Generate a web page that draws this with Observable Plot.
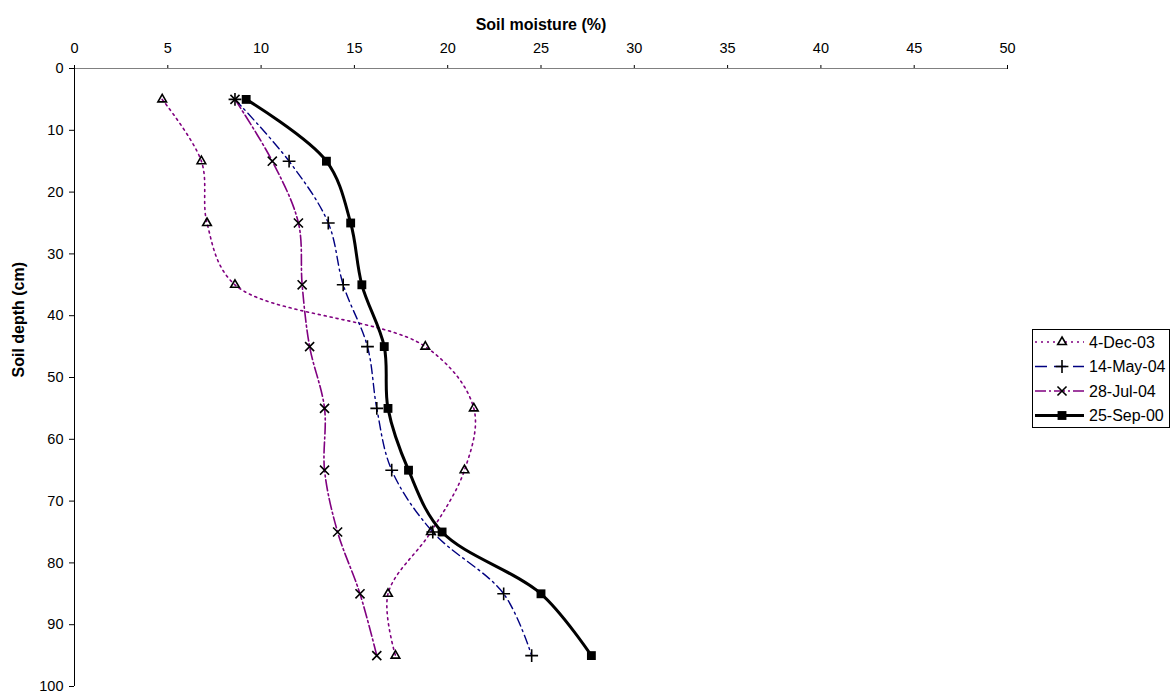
<!DOCTYPE html>
<html>
<head>
<meta charset="utf-8">
<script src="https://cdn.jsdelivr.net/npm/d3@7"></script>
<script src="https://cdn.jsdelivr.net/npm/@observablehq/plot@0.6"></script>
<style>
  body { margin: 0; background: white; }
  #wrap { position: relative; width: 1176px; height: 696px; }
  #legend { position: absolute; left: 1032px; top: 329px; width: 138px; height: 99px; border: 1px solid #000; background: #fff; box-sizing: border-box; }
</style>
</head>
<body>
<div id="wrap"><div id="legend"></div></div>
<script>
const depths = [5, 15, 25, 35, 45, 55, 65, 75, 85, 95];
const dec03 = [4.7, 6.8, 7.1, 8.6, 18.8, 21.4, 20.9, 19.1, 16.8, 17.2];
const may04 = [8.6, 11.5, 13.6, 14.4, 15.7, 16.2, 17.0, 19.2, 23.0, 24.5];
const jul04 = [8.6, 10.6, 12.0, 12.2, 12.6, 13.4, 13.4, 14.1, 15.3, 16.2];
const sep00 = [9.2, 13.5, 14.8, 15.4, 16.6, 16.8, 17.9, 19.7, 25.0, 27.7];
const seriesNames = ["4-Dec-03", "14-May-04", "28-Jul-04", "25-Sep-00"];
const xTicks = [0, 5, 10, 15, 20, 25, 30, 35, 40, 45, 50];
const yTicks = [0, 10, 20, 30, 40, 50, 60, 70, 80, 90, 100];

const styles = [
  {name: seriesNames[0], vals: dec03, stroke: "#800080", width: 1.6, dash: "2,4", symbol: "triangle", r: 3.2, fill: "none", mstroke: "#000"},
  {name: seriesNames[1], vals: may04, stroke: "#000080", width: 1.4, dash: "9,4,2,4", symbol: "plus", r: 4.2, fill: "none", mstroke: "#000"},
  {name: seriesNames[2], vals: jul04, stroke: "#800080", width: 1.6, dash: "11,3,2,3", symbol: "times", r: 4.2, fill: "none", mstroke: "#000"},
  {name: seriesNames[3], vals: sep00, stroke: "#000", width: 3, dash: null, symbol: "square", r: 5, fill: "#000", mstroke: "none"}
];

const rows = s => depths.map((d, i) => ({depth: d, moisture: s.vals[i], series: s.name}));

const marks = [
  Plot.axisX({anchor: "top", ticks: xTicks, tickSize: 4, tickPadding: 12, label: null, tickFormat: d => d}),
  Plot.axisY({anchor: "left", ticks: yTicks, tickSize: 5, tickPadding: 6, label: null, tickFormat: d => d}),
  Plot.ruleY([0], {stroke: "#808080", strokeWidth: 1.2}),
  Plot.ruleX([0], {stroke: "#000"})
];
for (const s of styles) {
  marks.push(Plot.line(rows(s), {x: "moisture", y: "depth", stroke: s.stroke, strokeWidth: s.width, strokeDasharray: s.dash, curve: "catmull-rom"}));
}
for (const s of styles) {
  marks.push(Plot.dot(rows(s), {x: "moisture", y: "depth", symbol: () => s.symbol, r: s.r, fill: s.fill, stroke: s.mstroke, strokeWidth: 1.6}));
}
marks.push(Plot.text(["Soil moisture (%)"], {frameAnchor: "top", dy: -50, fontWeight: "bold", fontSize: 16}));
marks.push(Plot.text(["Soil depth (cm)"], {frameAnchor: "left", dx: -56, rotate: -90, fontWeight: "bold", fontSize: 16}));

const chart = Plot.plot({
  width: 1176, height: 696,
  marginLeft: 74, marginRight: 169, marginTop: 68, marginBottom: 10,
  x: {domain: [0, 50]},
  y: {domain: [0, 100], reverse: true},
  symbol: {type: "identity"},
  style: {fontFamily: "'Liberation Sans', Arial, sans-serif", fontSize: "14.5px", color: "#000", background: "white"},
  marks
});
document.getElementById("wrap").prepend(chart);

// legend
const leg = d3.select("#legend").append("svg").attr("width", 136).attr("height", 97)
  .style("font-family", "'Liberation Sans', Arial, sans-serif").style("font-size", "16px");
styles.forEach((s, i) => {
  const y = 12 + 24.5 * i;
  leg.append("line").attr("x1", 2).attr("x2", 51).attr("y1", y).attr("y2", y)
    .attr("stroke", s.stroke).attr("stroke-width", s.width)
    .attr("stroke-dasharray", i === 1 ? "12,7" : s.dash);
  const symMap = {triangle: d3.symbolTriangle, plus: d3.symbolPlus, times: d3.symbolTimes, square: d3.symbolSquare};
  leg.append("path").attr("transform", `translate(29,${y})`)
    .attr("d", d3.symbol(symMap[s.symbol], Math.PI * s.r * s.r)())
    .attr("fill", s.fill === "none" ? (s.symbol === "triangle" ? "#fff" : "none") : s.fill)
    .attr("stroke", s.mstroke).attr("stroke-width", 1.6);
  leg.append("text").attr("x", 56).attr("y", y).attr("dy", "0.35em").text(s.name);
});
</script>
</body>
</html>
